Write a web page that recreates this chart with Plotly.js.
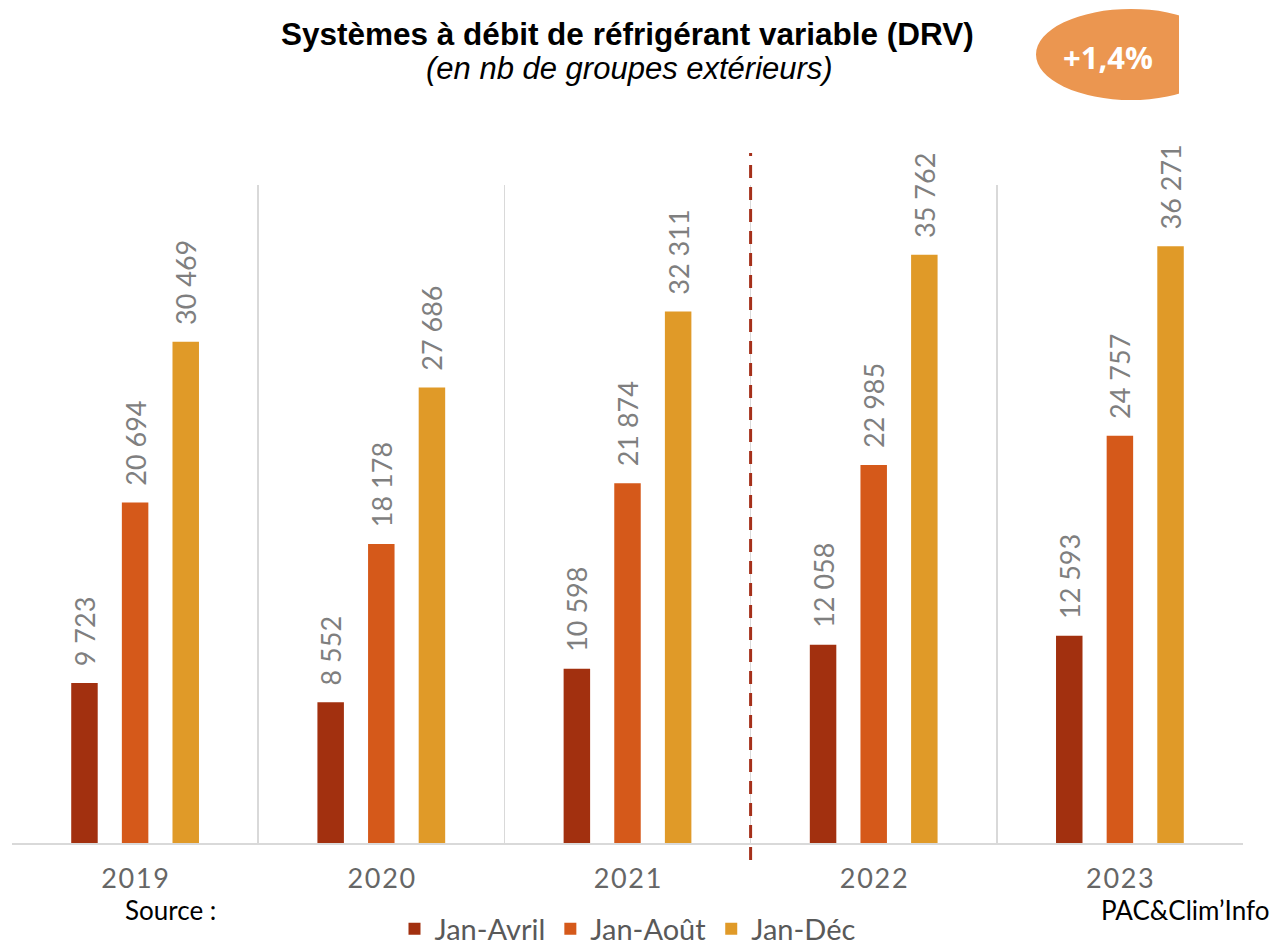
<!DOCTYPE html>
<html><head><meta charset="utf-8">
<script src="https://cdn.plot.ly/plotly-3.0.1.min.js"></script>
<style>html,body{margin:0;padding:0;background:#fff}#chart{width:1274px;height:948px}</style>
</head><body><div id="chart"></div>
<script>
const years = ['2019','2020','2021','2022','2023'];
const seriesNames = ['Jan-Avril','Jan-Août','Jan-Déc'];
const janAvril = [9723, 8552, 10598, 12058, 12593];
const janAout = [20694, 18178, 21874, 22985, 24757];
const janDec = [30469, 27686, 32311, 35762, 36271];
const colors = ['#a2300f','#d5591a','#e09a28'];
const badgeText = '+1,4%';

const W = 1274, H = 948, L = 12, R = 31, T = 185, B = 105;
const pw = W - L - R, ph = H - T - B;
const px = x => (x - L) / pw;
const py = y => (H - B - y) / ph;

const lblFont = {family: 'Lato, "Open Sans", sans-serif', size: 27, color: '#7f7f7f'};
const traces = [janAvril, janAout, janDec].map((vals, i) => ({
  type: 'bar', x: years, y: vals, name: seriesNames[i],
  marker: {color: colors[i], line: {width: 0}},
  text: vals.map(v => '\u00a0\u00a0' + v.toLocaleString('fr-FR').replace(/\s/g, ' ')),
  textposition: 'outside', textangle: -90, cliponaxis: false, constraintext: 'none',
  textfont: lblFont, hoverinfo: 'skip'
}));

const layout = {
  width: W, height: H,
  margin: {l: L, r: R, t: T, b: B, autoexpand: false},
  paper_bgcolor: '#fff', plot_bgcolor: '#fff',
  barmode: 'group', bargap: 0.383, bargroupgap: 0.477,
  showlegend: true,
  legend: {orientation: 'h', x: 0.5, xanchor: 'center', y: py(929), yanchor: 'middle',
    font: {family: 'Lato, sans-serif', size: 29, color: '#595959'}, itemwidth: 30},
  xaxis: {type: 'category', tickson: 'boundaries', showgrid: true, gridcolor: '#d9d9d9', gridwidth: 1.5,
    showline: true, linecolor: '#d9d9d9', linewidth: 2, ticks: '', ticklabelstandoff: 11,
    tickvals: years, ticktext: years.map(y => y.split('').join('\u200a')),
    tickfont: {family: 'Lato, sans-serif', size: 27, color: '#666666'}, fixedrange: true},
  yaxis: {range: [0, 40000], visible: false, showgrid: false, zeroline: false, fixedrange: true},
  shapes: [
    {type: 'line', xref: 'x', yref: 'paper', x0: 2.5, x1: 2.5, y0: py(860), y1: py(153),
      line: {color: '#a5301a', width: 3, dash: '13px,9px'}, layer: 'above'},
    {type: 'circle', xref: 'paper', yref: 'paper', x0: px(1036), x1: px(1226), y0: py(100), y1: py(9),
      fillcolor: '#eb9650', line: {width: 0}, layer: 'above'},
    {type: 'rect', xref: 'paper', yref: 'paper', x0: px(1179), x1: px(1290), y0: py(120), y1: py(0),
      fillcolor: '#ffffff', line: {width: 0}, layer: 'above'}
  ],
  annotations: [
    {text: '<b>Systèmes à débit de réfrigérant variable (DRV)</b>', xref: 'paper', yref: 'paper',
      x: px(627), y: py(34), xanchor: 'center', yanchor: 'middle', showarrow: false,
      font: {family: '"Liberation Sans", Arial, sans-serif', size: 31.5, color: '#000'}},
    {text: '<i>(en nb de groupes extérieurs)</i>', xref: 'paper', yref: 'paper',
      x: px(629), y: py(68), xanchor: 'center', yanchor: 'middle', showarrow: false,
      font: {family: '"Liberation Sans", Arial, sans-serif', size: 31, color: '#000'}},
    {text: '<b>' + badgeText + '</b>', xref: 'paper', yref: 'paper',
      x: px(1108), y: py(57), xanchor: 'center', yanchor: 'middle', showarrow: false,
      font: {family: '"Open Sans", sans-serif', size: 31, color: '#fff'}},
    {text: 'Source :', xref: 'paper', yref: 'paper', x: px(123), y: py(910), xanchor: 'left', yanchor: 'middle',
      showarrow: false, font: {family: 'Lato, sans-serif', size: 26, color: '#000'}},
    {text: 'PAC&amp;Clim\u2019Info', xref: 'paper', yref: 'paper', x: px(1271), y: py(910), xanchor: 'right', yanchor: 'middle',
      showarrow: false, font: {family: 'Lato, sans-serif', size: 26, color: '#000'}}
  ]
};

Plotly.newPlot('chart', traces, layout, {displayModeBar: false, staticPlot: true});
</script></body></html>
